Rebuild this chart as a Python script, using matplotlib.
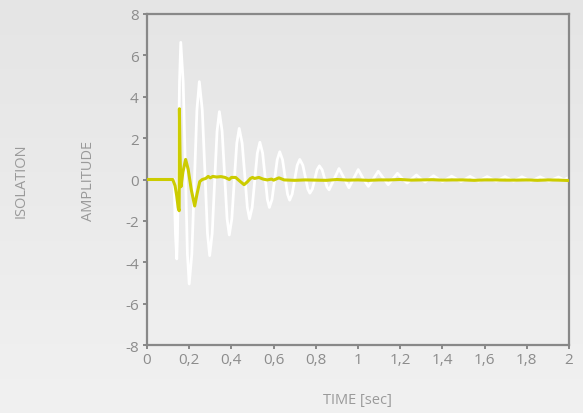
import numpy as np
import matplotlib
matplotlib.use("Agg")
import matplotlib.pyplot as plt

# ---- data ----
isolation_t = [0.0, 0.128, 0.135, 0.141, 0.1445, 0.148, 0.154, 0.160, 0.1715, 0.183, 0.1915,
               0.200, 0.2125, 0.225, 0.2365, 0.248, 0.262, 0.276, 0.2865, 0.297, 0.309, 0.321,
               0.332, 0.343, 0.356, 0.369, 0.3795, 0.390, 0.402, 0.414, 0.4255, 0.437, 0.451,
               0.465, 0.4755, 0.486, 0.4985, 0.511, 0.523, 0.535, 0.548, 0.561, 0.5705, 0.580,
               0.5925, 0.605, 0.617, 0.629, 0.6425, 0.656, 0.666, 0.676, 0.688, 0.700, 0.712,
               0.724, 0.7385, 0.753, 0.7625, 0.772, 0.7835, 0.795, 0.806, 0.817, 0.830, 0.843,
               0.853, 0.863, 0.886, 0.910, 0.937, 0.957, 0.977, 1.001, 1.027, 1.049, 1.071,
               1.096, 1.125, 1.143, 1.163, 1.187, 1.214, 1.233, 1.252, 1.277, 1.301, 1.318,
               1.358, 1.400, 1.444, 1.488, 1.531, 1.571, 1.612, 1.655, 1.697, 1.737, 1.777,
               1.820, 1.863, 1.905, 1.950, 1.975, 2.0]
isolation_v = [0.0, 0.0, -2.7, -3.84, -2.7, 0.0, 4.7, 6.63, 4.7, 0.0, -3.6,
               -5.05, -3.6, 0.0, 3.35, 4.73, 3.35, 0.0, -2.6, -3.68, -2.6, 0.0,
               2.33, 3.28, 2.33, 0.0, -1.9, -2.68, -1.9, 0.0, 1.75, 2.47, 1.75,
               0.0, -1.35, -1.90, -1.35, 0.0, 1.28, 1.80, 1.28, 0.0, -0.96, -1.35,
               -0.96, 0.0, 0.95, 1.34, 0.95, 0.0, -0.71, -1.00, -0.71, 0.0, 0.69,
               0.97, 0.69, 0.0, -0.47, -0.66, -0.47, 0.0, 0.47, 0.66, 0.47, 0.0,
               -0.36, -0.50, 0.0, 0.53, 0.0, -0.40, 0.0, 0.48, 0.0, -0.33, 0.0,
               0.40, 0.0, -0.25, 0.0, 0.30, 0.0, -0.17, 0.0, 0.22, 0.0, -0.12,
               0.18, -0.10, 0.16, -0.10, 0.15, -0.08, 0.14, -0.08, 0.14, -0.08, 0.13,
               -0.08, 0.13, -0.08, 0.12, -0.02, 0.10]

amplitude_t = [0.0, 0.122, 0.133, 0.141, 0.148, 0.1525, 0.1535, 0.1565, 0.161, 0.170, 0.183,
               0.195, 0.210, 0.226, 0.236, 0.250, 0.262, 0.278, 0.290, 0.300, 0.312, 0.330,
               0.350, 0.370, 0.390, 0.400, 0.420, 0.440, 0.460, 0.475, 0.490, 0.500, 0.510,
               0.530, 0.550, 0.570, 0.590, 0.600, 0.625, 0.650, 0.700, 0.750, 0.800, 0.850,
               0.900, 0.950, 1.000, 1.050, 1.100, 1.150, 1.200, 1.250, 1.300, 1.350, 1.400,
               1.450, 1.500, 1.550, 1.600, 1.650, 1.700, 1.750, 1.800, 1.850, 1.900, 1.950, 2.0]
amplitude_v = [0.0, 0.0, -0.3, -0.8, -1.37, -1.51, 3.42, 1.2, -0.35, 0.35, 0.97,
               0.5, -0.5, -1.28, -0.75, -0.1, 0.0, 0.05, 0.15, 0.08, 0.15, 0.12,
               0.14, 0.10, 0.0, 0.10, 0.10, -0.08, -0.25, -0.12, 0.05, 0.10, 0.05,
               0.10, 0.02, -0.02, 0.02, -0.03, 0.08, -0.02, -0.04, -0.02, -0.03, -0.04,
               0.0, -0.03, -0.02, -0.04, -0.02, -0.02, 0.0, -0.03, -0.02, -0.01, -0.03,
               -0.02, -0.02, -0.04, -0.02, -0.02, -0.03, -0.03, -0.02, -0.04, -0.02, -0.03, -0.05]

x_ticks = [0, 0.2, 0.4, 0.6, 0.8, 1.0, 1.2, 1.4, 1.6, 1.8, 2.0]
x_tick_labels = ["0", "0,2", "0,4", "0,6", "0,8", "1", "1,2", "1,4", "1,6", "1,8", "2"]
y_ticks = [-8, -6, -4, -2, 0, 2, 4, 6, 8]
y_tick_labels = ["-8", "-6", "-4", "-2", "0", "2", "4", "6", "8"]

# ---- figure ----
plt.rcParams['font.family'] = ['Open Sans', 'DejaVu Sans']
W, H = 583, 414
fig = plt.figure(figsize=(W / 100, H / 100), dpi=100)

# background gradient
bg = fig.add_axes([0, 0, 1, 1], zorder=-10)
top = np.array([0.898, 0.898, 0.898])
bot = np.array([0.945, 0.945, 0.945])
f = np.linspace(0, 1, 256)[:, None]
grad = (top[None, :] * (1 - f) + bot[None, :] * f)[:, None, :]
bg.imshow(grad, aspect='auto', extent=[0, 1, 0, 1], origin='upper')
bg.set_axis_off()

ax = fig.add_axes([147 / W, 1 - 346 / H, (569 - 147) / W, (346 - 15) / H])
ax.set_facecolor('none')

ax.plot(isolation_t, isolation_v, color='white', lw=2.0, solid_joinstyle='round',
        solid_capstyle='round', zorder=2)
ax.plot(amplitude_t, amplitude_v, color='#cccc00', lw=2.2, solid_joinstyle='round',
        solid_capstyle='round', zorder=3)

ax.set_xlim(0, 2)
ax.set_ylim(-8, 8)
ax.set_xticks(x_ticks)
ax.set_xticklabels(x_tick_labels)
ax.set_yticks(y_ticks)
ax.set_yticklabels(y_tick_labels)

gray = '#888888'
for s in ax.spines.values():
    s.set_color(gray)
    s.set_linewidth(1.6)
ax.tick_params(axis='both', colors=gray, labelcolor='#8c8c8c', length=3, width=1.4,
               labelsize=11, direction='out')
ax.tick_params(axis='x', pad=2)
ax.tick_params(axis='y', pad=3)

tc = '#9a9a9a'
fig.text(357 / W, 1 - 401 / H, 'TIME [sec]', color=tc, fontsize=10.5, ha='center', va='center')
fig.text(88 / W, 1 - 181 / H, 'AMPLITUDE', color=tc, fontsize=10.5, ha='center', va='center',
         rotation=90)
fig.text(21.5 / W, 1 - 181 / H, 'ISOLATION', color=tc, fontsize=10.5, ha='center', va='center',
         rotation=90)

fig.savefig('out.png', dpi=100)
